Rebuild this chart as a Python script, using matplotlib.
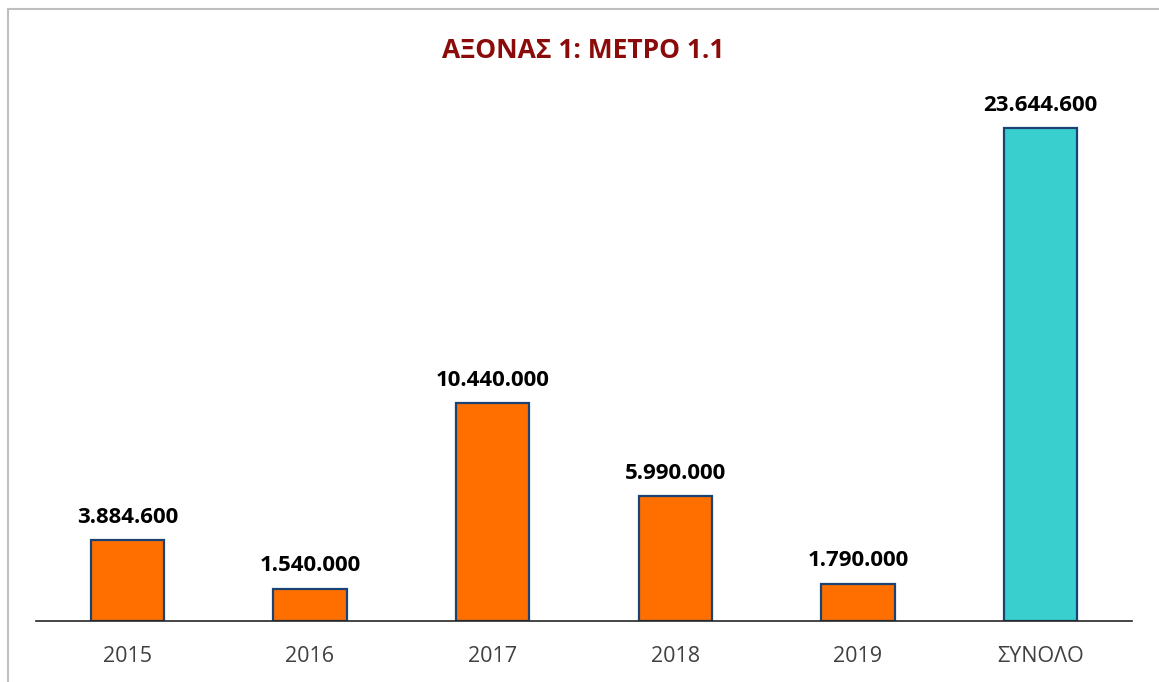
import matplotlib
matplotlib.use("Agg")
import matplotlib.pyplot as plt
from matplotlib.lines import Line2D

categories = ["2015", "2016", "2017", "2018", "2019", "ΣΥΝΟΛΟ"]
values = [3884600, 1540000, 10440000, 5990000, 1790000, 23644600]
labels = ["3.884.600", "1.540.000", "10.440.000", "5.990.000", "1.790.000", "23.644.600"]
colors = ["#FF6F00"] * 5 + ["#3ACFCF"]

plt.rcParams['font.family'] = ['Open Sans', 'DejaVu Sans']

fig = plt.figure(figsize=(11.59, 6.82), dpi=100)
bx = 7.5 / 1159
by = 1 - 8.5 / 682
fig.lines.append(Line2D([bx, bx], [0, by], transform=fig.transFigure, color="#BFBFBF", linewidth=1.5))
fig.lines.append(Line2D([bx, 1], [by, by], transform=fig.transFigure, color="#BFBFBF", linewidth=1.5))
ax = fig.add_axes([36/1159, 61/682, (1132-36)/1159, (621-100)/682])
x = range(len(categories))
ax.bar(x, values, width=0.4, color=colors, edgecolor="#1A4272", linewidth=1.6, zorder=3)
for xi, v, lab in zip(x, values, labels):
    ax.annotate(lab, (xi, v), xytext=(0, 9), textcoords="offset points", ha="center", va="bottom",
                fontsize=16, fontweight="bold", color="#000000")
ax.set_xlim(-0.5, len(categories) - 0.5)
ax.set_ylim(0, 25000000)
ax.set_xticks(list(x))
ax.set_xticklabels(categories, fontsize=15.5, color="#404040")
ax.tick_params(axis="x", length=0, pad=18)
ax.set_yticks([])
for s in ["top", "right", "left"]:
    ax.spines[s].set_visible(False)
ax.spines["bottom"].set_color("#262626")
ax.spines["bottom"].set_linewidth(1.2)
ax.spines["bottom"].set_zorder(4)
fig.text(583/1159, 1 - 50/682, "ΑΞΟΝΑΣ 1: ΜΕΤΡΟ 1.1", ha="center", va="center",
         fontsize=19, fontweight="bold", color="#8B0A0A")
fig.savefig("out.png", dpi=100)
